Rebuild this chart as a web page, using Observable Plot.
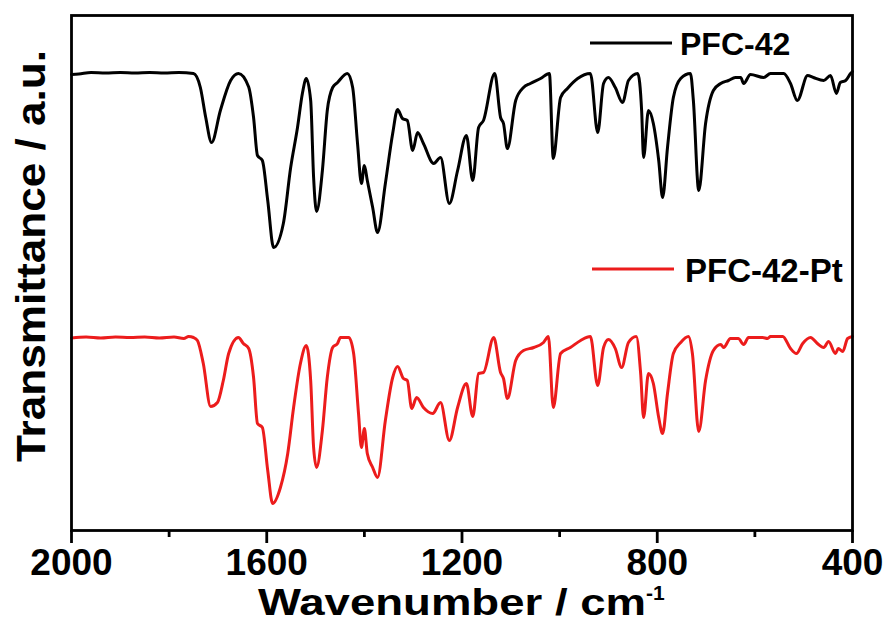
<!DOCTYPE html>
<html><head><meta charset="utf-8">
<script src="https://cdn.jsdelivr.net/npm/d3@7"></script>
<script src="https://cdn.jsdelivr.net/npm/@observablehq/plot@0.6"></script>
<style>body{margin:0;background:#fff} svg{display:block}</style>
</head><body><div id="chart"></div>
<script>
// PFC-42 (black) — wavenumber (cm-1) and transmittance (a.u.)
const wnBlack = [2000,1985,1960,1930,1900,1870,1840,1810,1780,1750,1736,1725,1713,1695,1674,1658,1637,1627,1619,1609,1598,1586,1566,1551,1537,1527,1519,1510,1504,1498,1486,1476,1465,1455,1435,1424,1414,1406,1400,1394,1383,1373,1357,1342,1332,1322,1312,1301,1291,1279,1258,1244,1226,1209,1191,1178,1166,1156,1133,1121,1115,1107,1090,1074,1060,1039,1021,1013,998,984,963,937,922,910,900,886,871,859,840,832,828,818,808,797,789,779,767,752,732,726,715,701,685,670,654,640,629,623,609,582,568,541,527,513,492,480,459,445,433,425,414,404,400];
const tBlack = [91.2,91.3,91.6,91.5,91.6,91.5,91.6,91.5,91.6,91.4,88.6,82.6,77.6,84,90,91.4,88.7,82.6,75,74,66,56.6,61.4,72.6,80.6,87.4,90.4,86,70.6,63.8,72,84,88.6,89.6,91.4,88.6,77.4,69.4,73,70,64.6,59.6,69.4,79.4,84.2,82.4,82,76,79.6,77.4,73.4,74.6,65.4,72,79,70,80.6,82,91.4,82.6,81.4,76.4,86,88.6,89.4,90.4,91.4,74.4,86.6,88.4,90.4,91.4,79.6,89.4,90.6,88.6,85.6,90,91.4,84,74.6,84,81.4,74,66.6,76.6,86.6,90.4,91.4,86,68,81.4,88,89.4,90,90.6,90.6,89.4,91.2,90.6,91.4,91.4,89.4,86,91,90.6,90,91,87.4,89.6,90,91.4,91.8];

// PFC-42-Pt (red)
const wnRed = [2000,1970,1940,1910,1880,1850,1820,1790,1770,1760,1750,1742,1730,1715,1701,1689,1678,1658,1648,1637,1627,1619,1609,1598,1588,1572,1557,1545,1531,1519,1510,1504,1498,1486,1476,1465,1455,1449,1432,1422,1412,1406,1400,1394,1383,1373,1357,1342,1332,1320,1312,1303,1293,1279,1260,1244,1226,1209,1191,1178,1166,1156,1135,1121,1115,1107,1090,1074,1053,1033,1023,1013,998,978,957,937,922,910,900,886,873,859,843,834,828,818,808,797,789,779,767,752,736,728,715,701,685,670,664,650,634,623,613,584,574,568,543,527,515,502,486,472,459,449,435,429,420,410,400];
const tRed = [38.5,38.7,38.5,38.7,38.6,38.7,38.5,38.7,38.4,38.8,38.6,38,33.4,24.8,25.6,30,35.4,38.6,37.4,36.4,30.6,21.4,20.6,12,5.4,8.6,15.4,24.6,33.4,37,30,16.6,12.6,20,30.6,36.6,37.4,38.6,38.6,35.4,23.4,16.6,20.4,15.4,12.6,10.6,22,30.6,32.8,30.4,30,24.4,26.6,24.6,23.4,25.6,18,24.6,29.4,22.8,31.4,31.6,38.6,31.6,30.4,26.4,34,36,36.6,37.6,38.8,24.6,35.4,36.6,38,38.8,29,36.6,38.2,36.4,32.6,37.6,38.8,31.4,22.6,31.4,29.4,22.6,19.4,27.4,35.4,37.6,38.8,35.4,19.8,30,36,37.2,36.6,38.4,38.4,37.2,38.6,38.6,38.4,38.8,38.8,36.4,35.4,37.4,38.6,37.4,36.6,37.8,35.4,36.4,35.8,38.4,38.8];

const seriesNames = ["PFC-42", "PFC-42-Pt"];
const seriesColors = ["#000000", "#ec1c1c"];
const majorTicks = [2000, 1600, 1200, 800, 400];
const minorTicks = [1800, 1400, 1000, 600];
const xLabel = "Wavenumber / cm";
const xLabelSup = "-1";
const yLabel = "Transmittance / a.u.";

const black = wnBlack.map((w, i) => ({wn: w, t: tBlack[i]}));
const red = wnRed.map((w, i) => ({wn: w, t: tRed[i]}));

const font = "'Liberation Sans', Arial, Helvetica, sans-serif";

const plot = Plot.plot({
  width: 890, height: 623,
  marginLeft: 71, marginRight: 38, marginTop: 15, marginBottom: 93,
  style: {fontFamily: font, background: "#fff", color: "#000"},
  x: {domain: [2000, 400], label: null},
  y: {domain: [0, 103], axis: null},
  marks: [
    Plot.line(black, {x: "wn", y: "t", stroke: seriesColors[0], strokeWidth: 3, curve: "monotone-x", strokeLinejoin: "round"}),
    Plot.line(red, {x: "wn", y: "t", stroke: seriesColors[1], strokeWidth: 3, curve: "monotone-x", strokeLinejoin: "round"}),
    Plot.axisX(majorTicks, {tickSize: 13, tickPadding: 5, strokeWidth: 2.8, fontSize: 37, fontWeight: "bold", tickFormat: d => String(d), label: null}),
    Plot.axisX(minorTicks, {tickSize: 7, strokeWidth: 2.8, tickFormat: () => "", label: null}),
    Plot.frame({stroke: "#000", strokeWidth: 2.8})
  ]
});

const svg = d3.select(plot);
// y axis label
svg.append("text")
  .attr("transform", "translate(31,256) rotate(-90)")
  .attr("text-anchor", "middle").attr("dy", "0.36em")
  .attr("font-size", 40).attr("font-weight", "bold").attr("fill", "#000")
  .attr("textLength", 412).attr("lengthAdjust", "spacingAndGlyphs")
  .text(yLabel);
// x axis label with superscript
const xl = svg.append("text")
  .attr("x", 258).attr("y", 615).attr("text-anchor", "start")
  .attr("font-size", 36).attr("font-weight", "bold").attr("fill", "#000");
xl.append("tspan").attr("textLength", 388).attr("lengthAdjust", "spacingAndGlyphs").text(xLabel);
xl.append("tspan").attr("dy", -15).attr("font-size", 21).text(xLabelSup);

// legend
const legendPos = [{x: 590, y: 43, tx: 680, ty: 55, fs: 32}, {x: 592, y: 269, tx: 685, ty: 282, fs: 33}];
seriesNames.forEach((name, i) => {
  const p = legendPos[i];
  svg.append("line").attr("x1", p.x).attr("x2", p.x + 82).attr("y1", p.y).attr("y2", p.y)
    .attr("stroke", seriesColors[i]).attr("stroke-width", 3);
  svg.append("text").attr("x", p.tx).attr("y", p.ty).attr("text-anchor", "start").attr("font-size", p.fs)
    .attr("font-weight", "bold").attr("fill", "#000").text(name);
});

document.getElementById("chart").appendChild(plot);
</script>
</body></html>
